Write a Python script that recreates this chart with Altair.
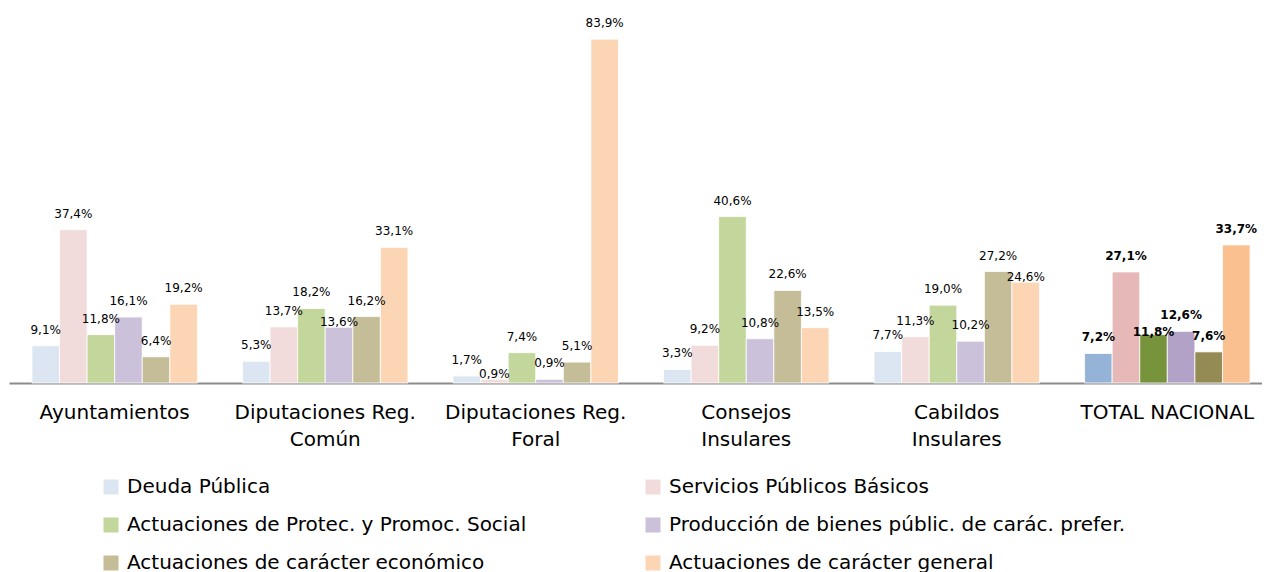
import altair as alt
import pandas as pd

grupos = ["Ayuntamientos", "Diputaciones Reg.\nComún", "Diputaciones Reg.\nForal",
          "Consejos\nInsulares", "Cabildos\nInsulares", "TOTAL NACIONAL"]
series = ["Deuda Pública", "Servicios Públicos Básicos",
          "Actuaciones de Protec. y Promoc. Social",
          "Producción de bienes públic. de carác. prefer.",
          "Actuaciones de carácter económico", "Actuaciones de carácter general"]
valores = {
    "Ayuntamientos": [9.1, 37.4, 11.8, 16.1, 6.4, 19.2],
    "Diputaciones Reg.\nComún": [5.3, 13.7, 18.2, 13.6, 16.2, 33.1],
    "Diputaciones Reg.\nForal": [1.7, 0.9, 7.4, 0.9, 5.1, 83.9],
    "Consejos\nInsulares": [3.3, 9.2, 40.6, 10.8, 22.6, 13.5],
    "Cabildos\nInsulares": [7.7, 11.3, 19.0, 10.2, 27.2, 24.6],
    "TOTAL NACIONAL": [7.2, 27.1, 11.8, 12.6, 7.6, 33.7],
}
colores_claros = ["#DCE6F2", "#F2DCDB", "#C3D69B", "#CCC1DA", "#C4BD97", "#FCD5B5"]
colores_total = ["#95B3D7", "#E6B9B8", "#77933C", "#B3A2C7", "#948A54", "#FAC090"]

rows = []
for g in grupos:
    for i, s in enumerate(series):
        v = valores[g][i]
        rows.append({"grupo": g, "serie": s, "orden": i, "valor": v,
                     "etiqueta": f"{v:.1f}".replace(".", ",") + "%",
                     "total": g == "TOTAL NACIONAL",
                     "color": colores_total[i]})
df = pd.DataFrame(rows)

x = alt.X("grupo:N", sort=grupos,
          scale=alt.Scale(domain=grupos, paddingInner=0.214, paddingOuter=0.109, range=[0, 1264]),
          axis=alt.Axis(title=None, labelAngle=0, ticks=False, labelFont="DejaVu Sans",
                        labelFontSize=20, labelColor="#000000", labelPadding=19,
                        labelLineHeight=27, labelExpr="split(datum.label, '\\n')",
                        domainColor="#8c8c8c", domainWidth=2, labelLimit=400))
xo = alt.XOffset("serie:N", sort=series, scale=alt.Scale(domain=series, paddingInner=0, paddingOuter=0))
y = alt.Y("valor:Q", scale=alt.Scale(domain=[0, 91.5], nice=False), axis=None)

base = alt.Chart(df)

bars_light = base.transform_filter("!datum.total").mark_bar(stroke="white", strokeWidth=0.8).encode(
    x=x, xOffset=xo, y=y,
    color=alt.Color("serie:N", sort=series,
                    scale=alt.Scale(domain=series, range=colores_claros),
                    legend=alt.Legend(title=None, orient="none", legendX=92, legendY=469,
                                      direction="horizontal", columns=2, columnPadding=116,
                                      rowPadding=18,
                                      symbolType="square", symbolSize=225, symbolStrokeWidth=0,
                                      labelFont="DejaVu Sans", labelFontSize=20, labelColor="#000000",
                                      labelLimit=700, labelOffset=6)),
)
bars_total = base.transform_filter("datum.total").mark_bar(stroke="white", strokeWidth=0.8).encode(
    x=x, xOffset=xo, y=y,
    fill=alt.Fill("color:N", scale=None),
)

# labels: when a neighbouring bar is only slightly taller, the label is set lower (as in the original)
lab = base.transform_window(
    prev="lag(valor)", next="lead(valor)", groupby=["grupo"], sort=[alt.SortField("orden")]
).transform_calculate(
    baja="(isValid(datum.prev) && datum.prev > datum.valor && datum.prev - datum.valor < 3) || "
         "(isValid(datum.next) && datum.next > datum.valor && datum.next - datum.valor < 3)"
)

def capa(filtro, dy, peso):
    return lab.transform_filter(filtro).mark_text(
        baseline="bottom", dy=dy, font="DejaVu Sans", fontSize=12, fontWeight=peso, color="#000000"
    ).encode(x=x, xOffset=xo, y=y, text="etiqueta:N")

labels = [
    capa("!datum.total && !datum.baja", -9, "normal"),
    capa("!datum.total && datum.baja", 2, "normal"),
    capa("datum.total && !datum.baja", -9, "bold"),
    capa("datum.total && datum.baja", 4, "bold"),
]

chart = alt.layer(bars_light, bars_total, *labels).properties(
    width=1253, height=375,
    padding={"left": 1, "top": 0, "right": 0, "bottom": 200},
    autosize=alt.AutoSizeParams(type="none"),
    background="white",
).configure_view(stroke=None)

chart.save("out.html", embed_options={"renderer": "svg", "actions": False})
